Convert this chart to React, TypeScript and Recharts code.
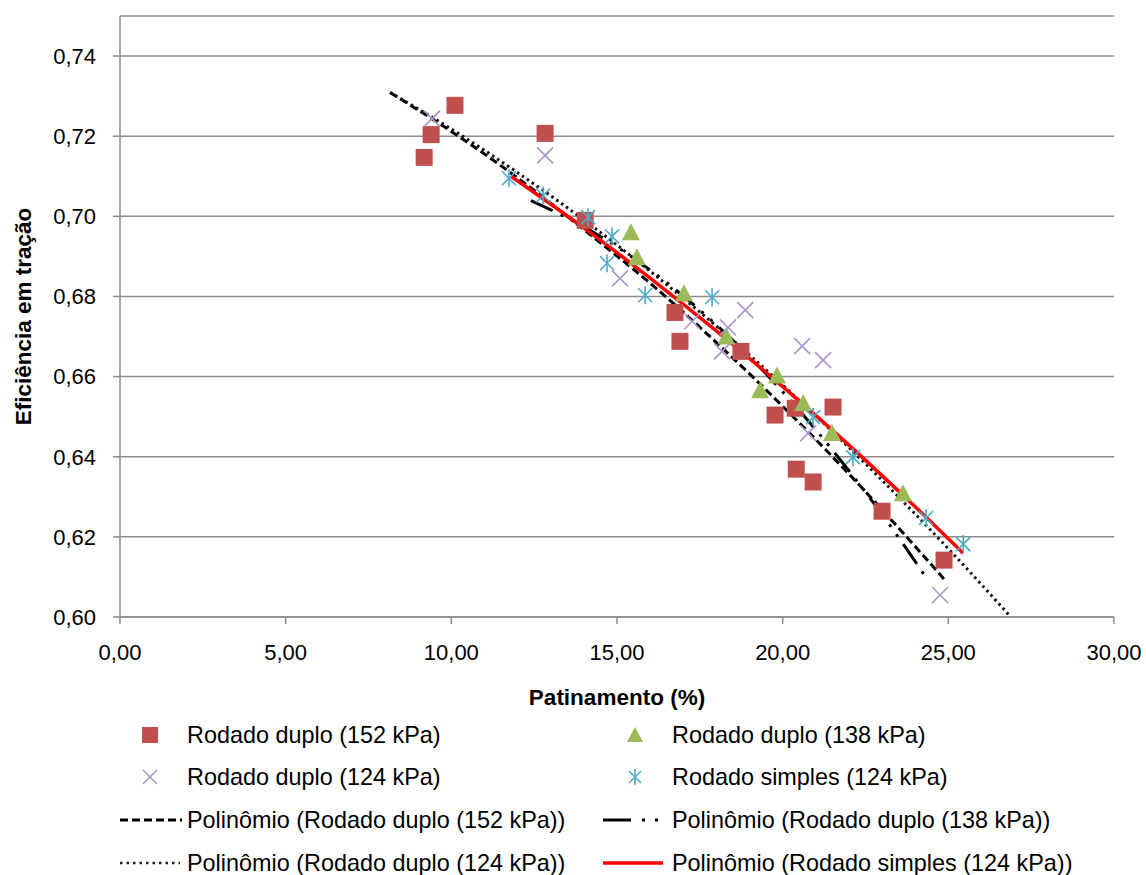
import React from 'react';
import { ComposedChart, XAxis, YAxis, CartesianGrid, Scatter, Line } from 'recharts';

const FONT = '"Liberation Sans", Arial, Helvetica, sans-serif';

// ---- Data ----
const xTicks = [0, 5, 10, 15, 20, 25, 30];
const yTicks = [0.6, 0.62, 0.64, 0.66, 0.68, 0.7, 0.72, 0.74];

const duplo152 = [
  { x: 9.18, y: 0.7147 }, { x: 9.39, y: 0.7204 }, { x: 10.11, y: 0.7277 }, { x: 12.83, y: 0.7207 },
  { x: 14.04, y: 0.699 }, { x: 16.75, y: 0.676 }, { x: 16.9, y: 0.6688 }, { x: 18.74, y: 0.6663 },
  { x: 19.77, y: 0.6504 }, { x: 20.38, y: 0.6521 }, { x: 20.41, y: 0.6369 }, { x: 20.92, y: 0.6337 },
  { x: 21.52, y: 0.6524 }, { x: 23.0, y: 0.6264 }, { x: 24.87, y: 0.6142 },
];

const duplo138 = [
  { x: 15.42, y: 0.696 }, { x: 15.6, y: 0.6898 }, { x: 17.02, y: 0.6808 }, { x: 18.3, y: 0.67 },
  { x: 19.32, y: 0.6566 }, { x: 19.83, y: 0.6603 }, { x: 20.62, y: 0.6534 }, { x: 21.49, y: 0.6459 },
  { x: 23.63, y: 0.6309 },
];

const duplo124 = [
  { x: 9.42, y: 0.7244 }, { x: 12.83, y: 0.7152 }, { x: 15.09, y: 0.6845 }, { x: 17.27, y: 0.6738 },
  { x: 18.17, y: 0.6663 }, { x: 18.35, y: 0.6723 }, { x: 18.87, y: 0.6766 }, { x: 20.59, y: 0.6676 },
  { x: 21.22, y: 0.6641 }, { x: 20.77, y: 0.6459 }, { x: 24.75, y: 0.6055 },
];

const simples124 = [
  { x: 11.74, y: 0.7095 }, { x: 12.77, y: 0.7052 }, { x: 14.13, y: 0.6998 }, { x: 14.85, y: 0.695 },
  { x: 14.7, y: 0.6883 }, { x: 15.85, y: 0.6803 }, { x: 17.87, y: 0.6798 }, { x: 20.92, y: 0.6499 },
  { x: 22.12, y: 0.6399 }, { x: 24.33, y: 0.6247 }, { x: 25.45, y: 0.6182 },
];

// trendlines
const trend152 = [
  { x: 8.15, y: 0.7309 }, { x: 10, y: 0.7212 }, { x: 12, y: 0.7096 }, { x: 14, y: 0.6967 },
  { x: 16, y: 0.6833 }, { x: 18, y: 0.6685 }, { x: 20, y: 0.6526 }, { x: 22, y: 0.6357 },
  { x: 24, y: 0.6176 }, { x: 24.9, y: 0.6092 },
];
const trend138 = [
  { x: 12.4, y: 0.7039 }, { x: 14, y: 0.6974 }, { x: 16, y: 0.6866 }, { x: 18, y: 0.6729 },
  { x: 20, y: 0.6562 }, { x: 22, y: 0.6365 }, { x: 23, y: 0.6256 }, { x: 24.36, y: 0.6095 },
];
const trend124 = [
  { x: 8.15, y: 0.7309 }, { x: 10, y: 0.7218 }, { x: 12, y: 0.7109 }, { x: 14, y: 0.6991 },
  { x: 16, y: 0.6863 }, { x: 18, y: 0.6726 }, { x: 20, y: 0.6579 }, { x: 22, y: 0.6423 },
  { x: 24, y: 0.6257 }, { x: 26, y: 0.6081 }, { x: 26.83, y: 0.6005 },
];
const trendSimples = [
  { x: 11.8, y: 0.71 }, { x: 14, y: 0.6971 }, { x: 16, y: 0.6846 }, { x: 18, y: 0.6714 },
  { x: 20, y: 0.6575 }, { x: 22, y: 0.6429 }, { x: 24, y: 0.6275 }, { x: 25.45, y: 0.6159 },
];

const legendLabels = [
  'Rodado duplo (152 kPa)',
  'Rodado duplo (138 kPa)',
  'Rodado duplo (124 kPa)',
  'Rodado simples (124 kPa)',
  'Polinômio (Rodado duplo (152 kPa))',
  'Polinômio (Rodado duplo (138 kPa))',
  'Polinômio (Rodado duplo (124 kPa))',
  'Polinômio (Rodado simples (124 kPa))',
];

// ---- Styles ----
const RED = '#C0504D';
const GREEN = '#9BBB59';
const PURPLE = '#A995C9';
const CYAN = '#4BACC6';
const GRID = '#8c8c8c';
const DASH152 = '8 4';
const DASH138 = '24 9 3 9 3 9';
const DASH124 = '2.5 3.5';

const fmt = (v: number) => v.toFixed(2).replace('.', ',');

const SquareShape = (p: any) => <rect x={p.cx - 8.5} y={p.cy - 8.5} width={17} height={17} fill={RED} />;
const TriShape = (p: any) => (
  <polygon points={`${p.cx},${p.cy - 9} ${p.cx + 9},${p.cy + 8} ${p.cx - 9},${p.cy + 8}`} fill={GREEN} />
);
const XShape = (p: any) => (
  <g stroke={PURPLE} strokeWidth={1.6}>
    <line x1={p.cx - 8} y1={p.cy - 8} x2={p.cx + 8} y2={p.cy + 8} />
    <line x1={p.cx - 8} y1={p.cy + 8} x2={p.cx + 8} y2={p.cy - 8} />
  </g>
);
const StarShape = (p: any) => (
  <g stroke={CYAN} strokeWidth={1.6}>
    <line x1={p.cx - 7} y1={p.cy - 7} x2={p.cx + 7} y2={p.cy + 7} />
    <line x1={p.cx - 7} y1={p.cy + 7} x2={p.cx + 7} y2={p.cy - 7} />
    <line x1={p.cx} y1={p.cy - 9} x2={p.cx} y2={p.cy + 9} />
  </g>
);

const YLabel = (props: any) => {
  const vb = props.viewBox;
  const x = vb.x + 23;
  const y = vb.y + vb.height / 2;
  return (
    <text x={x} y={y} transform={`rotate(-90 ${x} ${y})`} textAnchor="middle" dominantBaseline="central"
      fontFamily={FONT} fontSize={22.5} fontWeight="bold" fill="#000">
      Eficiência em tração
    </text>
  );
};

const XLabel = (props: any) => {
  const vb = props.viewBox;
  return (
    <text x={vb.x + vb.width / 2} y={vb.y + 80} textAnchor="middle" dominantBaseline="central"
      fontFamily={FONT} fontSize={22.5} fontWeight="bold" fill="#000">
      Patinamento (%)
    </text>
  );
};

const markerIcon = (kind: string) => {
  const c = 14;
  if (kind === 'square') return <rect x={c - 8} y={13 - 8} width={16} height={16} fill={RED} />;
  if (kind === 'tri') return <polygon points={`${c},${13 - 8} ${c + 8},${13 + 7} ${c - 8},${13 + 7}`} fill={GREEN} />;
  if (kind === 'x')
    return (
      <g stroke={PURPLE} strokeWidth={1.6}>
        <line x1={c - 7} y1={6} x2={c + 7} y2={20} />
        <line x1={c - 7} y1={20} x2={c + 7} y2={6} />
      </g>
    );
  return (
    <g stroke={CYAN} strokeWidth={1.6}>
      <line x1={c - 6} y1={7} x2={c + 6} y2={19} />
      <line x1={c - 6} y1={19} x2={c + 6} y2={7} />
      <line x1={c} y1={5} x2={c} y2={21} />
    </g>
  );
};

const lineIcon = (dash: string | undefined, color: string, w: number, len: number) => (
  <line x1={0} y1={13} x2={len} y2={13} stroke={color} strokeWidth={w} strokeDasharray={dash} />
);

export default function App() {
  const legendItems = [
    { label: legendLabels[0], left: 187, top: 735, icon: markerIcon('square'), iconLeft: 136, iconW: 28 },
    { label: legendLabels[1], left: 672, top: 735, icon: markerIcon('tri'), iconLeft: 621, iconW: 28 },
    { label: legendLabels[2], left: 187, top: 777, icon: markerIcon('x'), iconLeft: 136, iconW: 28 },
    { label: legendLabels[3], left: 672, top: 777, icon: markerIcon('star'), iconLeft: 621, iconW: 28 },
    { label: legendLabels[4], left: 187, top: 820, icon: lineIcon(DASH152, '#000', 3, 62), iconLeft: 120, iconW: 62 },
    { label: legendLabels[5], left: 672, top: 820, icon: lineIcon('28 11 3 10 3 10', '#000', 3, 59), iconLeft: 603, iconW: 59 },
    { label: legendLabels[6], left: 187, top: 863, icon: lineIcon('2.5 4', '#222', 2.5, 60), iconLeft: 120, iconW: 60 },
    { label: legendLabels[7], left: 672, top: 863, icon: lineIcon(undefined, '#FF0000', 3.5, 60), iconLeft: 603, iconW: 60 },
  ];

  return (
    <div style={{ position: 'absolute', left: 0, top: 0, width: 1146, height: 875, background: '#fff', overflow: 'hidden' }}>
      <ComposedChart width={1146} height={720} margin={{ top: 16, right: 32, bottom: 43, left: 0 }}>
        <CartesianGrid vertical={false} stroke={GRID} strokeWidth={1.5} />
        <XAxis
          type="number"
          dataKey="x"
          domain={[0, 30]}
          ticks={xTicks}
          tickFormatter={fmt}
          height={60}
          tickSize={7}
          tickMargin={20}
          tick={{ fill: '#000', fontSize: 22, fontFamily: FONT }}
          axisLine={{ stroke: GRID, strokeWidth: 1.5 }}
          tickLine={{ stroke: GRID, strokeWidth: 1.5 }}
          allowDataOverflow
          label={{ content: XLabel }}
        />
        <YAxis
          type="number"
          dataKey="y"
          domain={[0.6, 0.75]}
          ticks={yTicks}
          tickFormatter={fmt}
          width={120}
          tickSize={7}
          tickMargin={17}
          tick={{ fill: '#000', fontSize: 22, fontFamily: FONT }}
          axisLine={{ stroke: GRID, strokeWidth: 1.5 }}
          tickLine={{ stroke: GRID, strokeWidth: 1.5 }}
          allowDataOverflow
          label={{ content: YLabel }}
        />
        <Scatter data={duplo152} dataKey="y" shape={SquareShape} isAnimationActive={false} />
        <Scatter data={duplo138} dataKey="y" shape={TriShape} isAnimationActive={false} />
        <Scatter data={duplo124} dataKey="y" shape={XShape} isAnimationActive={false} />
        <Scatter data={simples124} dataKey="y" shape={StarShape} isAnimationActive={false} />
        <Line data={trend152} dataKey="y" type="monotone" stroke="#000" strokeWidth={3} strokeDasharray={DASH152} dot={false} activeDot={false} isAnimationActive={false} />
        <Line data={trend138} dataKey="y" type="monotone" stroke="#000" strokeWidth={3} strokeDasharray={DASH138} dot={false} activeDot={false} isAnimationActive={false} />
        <Line data={trend124} dataKey="y" type="monotone" stroke="#111" strokeWidth={3} strokeDasharray={DASH124} dot={false} activeDot={false} isAnimationActive={false} />
        <Line data={trendSimples} dataKey="y" type="monotone" stroke="#FF0000" strokeWidth={3.5} dot={false} activeDot={false} isAnimationActive={false} />
      </ComposedChart>
      {legendItems.map((it, i) => (
        <React.Fragment key={i}>
          <svg style={{ position: 'absolute', left: it.iconLeft, top: it.top - 13 }} width={it.iconW} height={26}>
            {it.icon}
          </svg>
          <div
            style={{
              position: 'absolute',
              left: it.left,
              top: it.top - 14,
              height: 28,
              lineHeight: '28px',
              fontFamily: FONT,
              fontSize: 23.4,
              color: '#000',
              whiteSpace: 'nowrap',
            }}
          >
            {it.label}
          </div>
        </React.Fragment>
      ))}
    </div>
  );
}
